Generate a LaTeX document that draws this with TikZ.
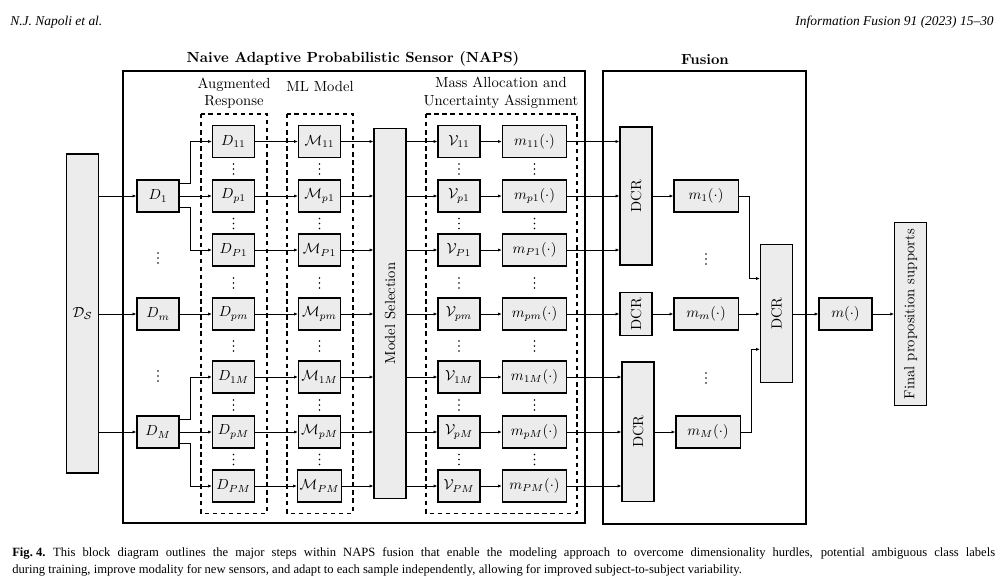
\documentclass[tikz,border=0pt]{standalone}
\usepackage{amsmath,amssymb}
\usepackage{fontspec}
\newfontfamily\capfont[Ligatures=TeX]{Liberation Serif}
\usetikzlibrary{arrows.meta}
\definecolor{boxgray}{RGB}{236,236,236}

\begin{document}
\begin{tikzpicture}[x=0.024cm,y=-0.024cm,
  blk/.style={draw,fill=boxgray,line width=0.8pt,minimum width=1.01cm,minimum height=0.77cm,inner sep=1.5pt},
  wide/.style={blk,minimum width=1.54cm},
  tall/.style={draw,fill=boxgray,line width=0.8pt,minimum width=0.77cm,inner sep=0pt},
  frame/.style={draw,line width=1.3pt},
  grp/.style={draw,line width=0.7pt,dash pattern=on 3pt off 2.5pt},
  ttl/.style={font=\bfseries},
  vdot/.pic={\foreach \k in {-5,0,5} \fill (0,\k) circle (0.62pt);},
  arr/.style={-{Latex[length=2.6pt,width=2.2pt]},line width=0.55pt},
  hdr/.style={font=\capfont\itshape\fontsize{9.2}{11}\selectfont,inner sep=0pt},
  captxt/.style={font=\capfont\fontsize{8.6}{10}\selectfont,inner sep=0pt,anchor=west},
]
\useasboundingbox (0,0) rectangle (1004,586);

% page header
\node[hdr,anchor=west] (hL) at (10,22) {N.J. Napoli et al.};
\node[hdr,anchor=east] (hR) at (994,22) {Information Fusion 91 (2023) 15–30};

% frames and groups
\draw[frame] (123,71) rectangle (585,523);
\draw[frame] (603,71) rectangle (806,524);
\node[ttl] (tNAPS) at (353,59) {Naive Adaptive Probabilistic Sensor (NAPS)};
\node[ttl] (tFus) at (705,60) {Fusion};
\draw[grp] (201,114) rectangle (267,513);
\draw[grp] (287,114) rectangle (353,513);
\draw[grp] (426,114) rectangle (577,513);
\node[align=center] (lAug) at (234,93) {Augmented\\Response};
\node (lML) at (320,86) {ML Model};
\node[align=center] (lMass) at (501,93) {Mass Allocation and\\Uncertainty Assignment};

% sensor and its modalities
\node[tall,minimum height=7.66cm] (DS) at (82.5,313.5) {$\mathcal{D}_\mathcal{S}$};
\node[blk] (D1) at (158,196) {$D_1$};
\node[blk] (Dm) at (158,314) {$D_m$};
\node[blk] (DM) at (158,432) {$D_M$};
\pic at (158,258) {vdot};
\pic at (158,376) {vdot};

% tall blocks
\node[tall,minimum height=8.9cm] (MS) at (390,313.5) {\rotatebox{90}{Model Selection}};
\node[tall,minimum height=3.31cm] (dA) at (636,196) {\rotatebox{90}{DCR}};
\node[tall,minimum height=1.03cm] (dB) at (636,314) {\rotatebox{90}{DCR}};
\node[tall,minimum height=3.34cm] (dC) at (638,431.5) {\rotatebox{90}{DCR}};
\node[tall,minimum height=3.31cm] (dF) at (776.5,313.5) {\rotatebox{90}{DCR}};
\node[tall,minimum height=4.39cm] (Fin) at (910.7,314) {\rotatebox{90}{Final proposition supports}};

% rows
\foreach \i/\y/\d in {11/141.5/dA,p1/196/dA,P1/250/dA,pm/314/dB,1M/377/dC,pM/432/dC,PM/486/dC}{
  \node[blk] (D\i) at (233.5,\y) {$D_{\i}$};
  \node[blk] (M\i) at (319.5,\y) {$\mathcal{M}_{\i}$};
  \node[blk] (V\i) at (459,\y) {$\mathcal{V}_{\i}$};
  \node[wide] (m\i) at (534.5,\y) {$m_{\i}(\cdot)$};
  \draw[arr] (D\i) -- (M\i);
  \draw[arr] (M\i) -- (M\i -| MS.west);
  \draw[arr] (MS.east |- V\i) -- (V\i);
  \draw[arr] (V\i) -- (m\i);
  \draw[arr] (m\i) -- (m\i -| \d.west);
}
\foreach \x in {233.5,319.5,459,534.5}
  \foreach \y in {169,223.5,283,346,405,459.5}
    \pic at (\x,\y) {vdot};

% fusion
\node[wide] (fA) at (706,196) {$m_1(\cdot)$};
\node[wide] (fB) at (706,314) {$m_m(\cdot)$};
\node[wide] (fC) at (708,432) {$m_M(\cdot)$};
\pic at (706,259) {vdot};
\pic at (706,378) {vdot};
\node[blk,minimum width=1.27cm] (mOut) at (845.5,314) {$m(\cdot)$};

% connectors
\draw[arr] (DS.east |- D1) -- (D1);
\draw[arr] (DS.east |- Dm) -- (Dm);
\draw[arr] (DS.east |- DM) -- (DM);
\draw[arr] ([yshift=0.3cm]D1.east) -- ++(11,0) |- (D11);
\draw[arr] (D1) -- (Dp1);
\draw[arr] ([yshift=-0.28cm]D1.east) -- ++(11,0) |- (DP1);
\draw[arr] (Dm) -- (Dpm);
\draw[arr] ([yshift=0.3cm]DM.east) -- ++(11,0) |- (D1M);
\draw[arr] (DM) -- (DpM);
\draw[arr] ([yshift=-0.28cm]DM.east) -- ++(11,0) |- (DPM);
\draw[arr] (dA.east |- fA) -- (fA);
\draw[arr] (dB) -- (fB);
\draw[arr] (dC.east |- fC) -- (fC);
\draw[arr] (fA.east) -- ++(11,0) |- ([yshift=0.84cm]dF.west);
\draw[arr] (fB) -- (fB -| dF.west);
\draw[arr] (fC.east) -- ++(11,0) |- ([yshift=-0.86cm]dF.west);
\draw[arr] (dF.east |- mOut) -- (mOut);
\draw[arr] (mOut) -- (Fin);

% caption
\node[captxt] (cap1) at (12,553) {\makebox[23.59cm][s]{\textbf{Fig.\hspace{0.25em}4.}\hspace{0.6em}This block diagram outlines the major steps within NAPS fusion that enable the modeling approach to overcome dimensionality hurdles, potential ambiguous class labels}};
\node[captxt] (cap2) at (12,570) {during training, improve modality for new sensors, and adapt to each sample independently, allowing for improved subject-to-subject variability.};
\end{tikzpicture}
\end{document}
